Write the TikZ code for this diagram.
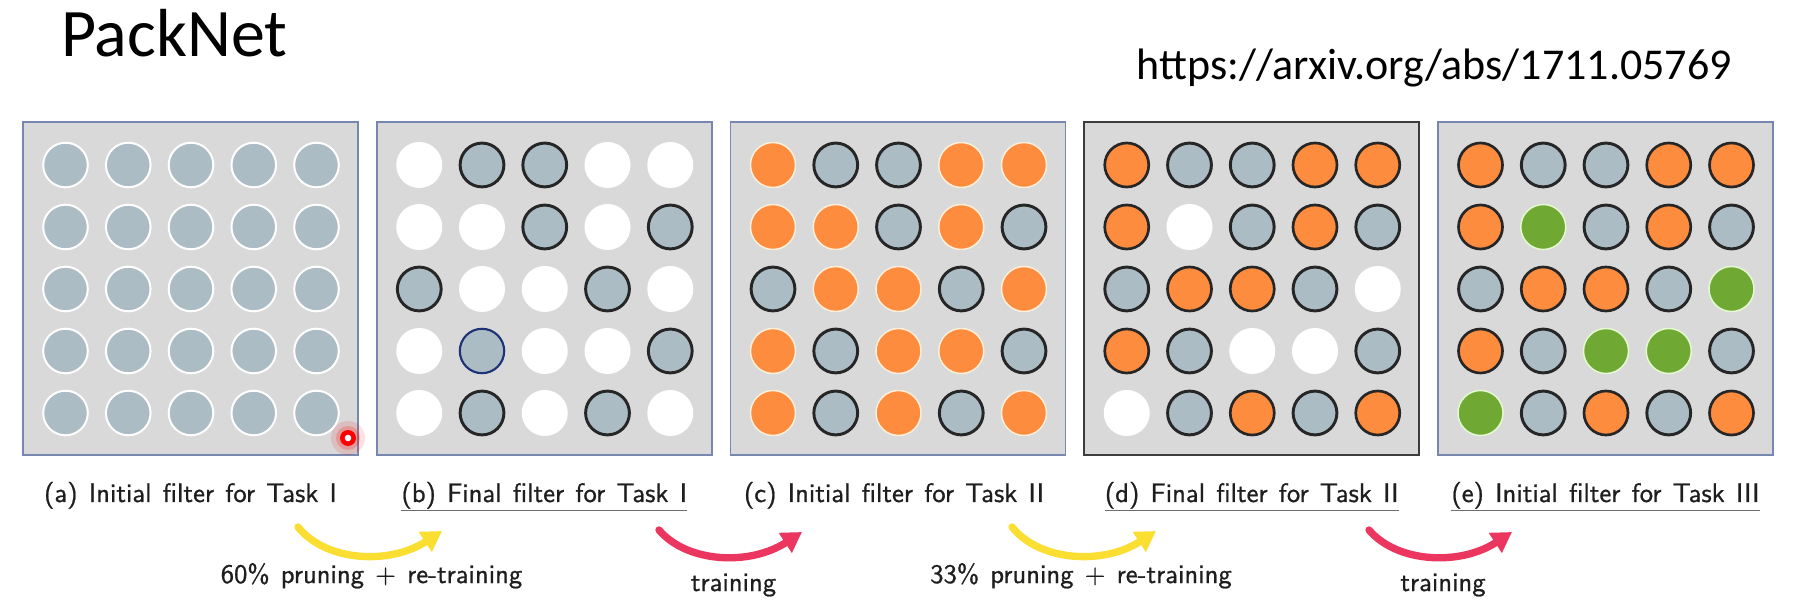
\documentclass[tikz,border=0pt]{standalone}
\usepackage{fontspec}
\newfontfamily\calib{Carlito}
\newfontfamily\capf{lmsans10-regular.otf}[FakeBold=0.8]
\usetikzlibrary{arrows.meta}
\definecolor{pfill}{RGB}{217,217,217}
\definecolor{pborder}{RGB}{120,135,175}
\definecolor{pborderd}{RGB}{60,60,60}
\definecolor{cgray}{RGB}{172,188,196}
\definecolor{corange}{RGB}{253,140,62}
\definecolor{cgreen}{RGB}{112,168,52}
\definecolor{cyel}{RGB}{250,222,50}
\definecolor{cred}{RGB}{235,55,95}
\definecolor{ulgray}{RGB}{110,110,110}
\definecolor{cblue}{RGB}{30,50,120}
\definecolor{ccream}{RGB}{255,240,220}
\definecolor{clgreen}{RGB}{230,250,210}
\definecolor{ctext}{RGB}{30,30,30}
\tikzset{
  panel/.style={draw=pborder, fill=pfill, line width=1.2pt, minimum width=251.25pt, minimum height=249.75pt, inner sep=0pt},
  c-g/.style={fill=cgray, draw=white, line width=1.5pt, radius=22.3},
  c-k/.style={fill=cgray, draw=black!85, line width=2.2pt, radius=21.9},
  c-b/.style={fill=cgray, draw=cblue, line width=1.6pt, radius=22.2},
  c-w/.style={fill=white, radius=23},
  c-o/.style={fill=corange, draw=ccream, line width=1.1pt, radius=22.5},
  c-O/.style={fill=corange, draw=black!85, line width=2pt, radius=22},
  c-G/.style={fill=cgreen, draw=clgreen, line width=1.1pt, radius=22.5},
  captext/.style={anchor=base, inner sep=0pt, text=ctext, font={\capf\fontsize{20}{24}\selectfont\spaceskip=0.42em\relax}},
  labtext/.style={anchor=base, inner sep=0pt, text=ctext, font={\capf\fontsize{20}{24}\selectfont\spaceskip=0.42em\relax}},
  uline/.style={draw=ulgray, line width=1.3pt},
  yarrow/.style={draw=cyel, line width=5.5pt, line cap=round, -{Triangle[length=15pt,width=17pt]}},
  rarrow/.style={draw=cred, line width=5.5pt, line cap=round, -{Triangle[length=15pt,width=17pt]}},
}
\newcommand\pgrid[2]{%
  \foreach \rowlist [count=\j from 0] in {#2} {
    \foreach \c [count=\i from 0] in \rowlist {
      \path[c-\c] ({#1+42.5+62.75*\i},{165+62*\j}) circle[];
    }
  }%
}
\begin{document}
\begin{tikzpicture}[x=0.75pt,y=-0.75pt]
\useasboundingbox (0,0) rectangle (1793,609);
\fill[white] (0,0) rectangle (1793,609);
% title and link
\node[anchor=base west, inner sep=0pt, font={\calib\fontsize{51}{60}\selectfont}] (title) at (61,57) {PackNet};
\node[anchor=base east, inner sep=0pt, font={\calib\fontsize{33}{40}\selectfont}] (url) at (1732,80) {https://arxiv.org/abs/1711.05769};
% panels
\node[panel] (pa) at (190.5,288.5) {};
\node[panel] (pb) at (544.25,288.5) {};
\node[panel] (pc) at (898,288.5) {};
\node[panel, draw=pborderd] (pd) at (1251.75,288.5) {};
\node[panel] (pe) at (1605.5,288.5) {};
\pgrid{23}{{g,g,g,g,g},{g,g,g,g,g},{g,g,g,g,g},{g,g,g,g,g},{g,g,g,g,g}}
\pgrid{376.75}{{w,k,k,w,w},{w,w,k,w,k},{k,w,w,k,w},{w,b,w,w,k},{w,k,w,k,w}}
\pgrid{730.5}{{o,k,k,o,o},{o,o,k,o,k},{k,o,o,k,o},{o,k,o,o,k},{o,k,o,k,o}}
\pgrid{1084.25}{{O,k,k,O,O},{O,w,k,O,k},{k,O,O,k,w},{O,k,w,w,k},{w,k,O,k,O}}
\pgrid{1438}{{O,k,k,O,O},{O,G,k,O,k},{k,O,O,k,G},{O,k,G,G,k},{G,k,O,k,O}}
% cursor highlight
\fill[red, opacity=0.12] (348,438) circle[radius=17];
\fill[red, opacity=0.2] (348,438) circle[radius=12];
\fill[red] (348,438) circle[radius=8];
\fill[white] (348,438) circle[radius=3.3];
% captions
\node[captext] (ca) at (190.5,502) {(a) Initial filter for Task I};
\node[captext] (cb) at (544.25,502) {(b) Final filter for Task I};
\node[captext] (cc) at (894,502) {(c) Initial filter for Task II};
\node[captext] (cd) at (1251.75,502) {(d) Final filter for Task II};
\node[captext] (ce) at (1605.5,502) {(e) Initial filter for Task III};
\foreach \n in {cb,cd,ce} {
  \draw[uline] ([yshift=-1.2pt]\n.south west) -- ([yshift=-1.2pt]\n.south east);
}
% arrows
\coordinate (ys1) at (298,527);
\coordinate (ye1) at (442,531);
\coordinate (rs1) at (659,530);
\coordinate (re1) at (802,532);
\coordinate (ys2) at (1012,527);
\coordinate (ye2) at (1156,531);
\coordinate (rs2) at (1369,530);
\coordinate (re2) at (1512,532);
\draw[yarrow] (ys1) .. controls +(28,35) and +(-52,34) .. (ye1);
\draw[rarrow] (rs1) .. controls +(28,33) and +(-52,34) .. (re1);
\draw[yarrow] (ys2) .. controls +(28,35) and +(-52,34) .. (ye2);
\draw[rarrow] (rs2) .. controls +(28,33) and +(-52,34) .. (re2);
% labels
\node[labtext] (l1) at (371.5,583) {60\% pruning + re-training};
\node[labtext] (l2) at (733.5,591) {training};
\node[labtext] (l3) at (1081,583) {33\% pruning + re-training};
\node[labtext] (l4) at (1443,591) {training};
\end{tikzpicture}
\end{document}
